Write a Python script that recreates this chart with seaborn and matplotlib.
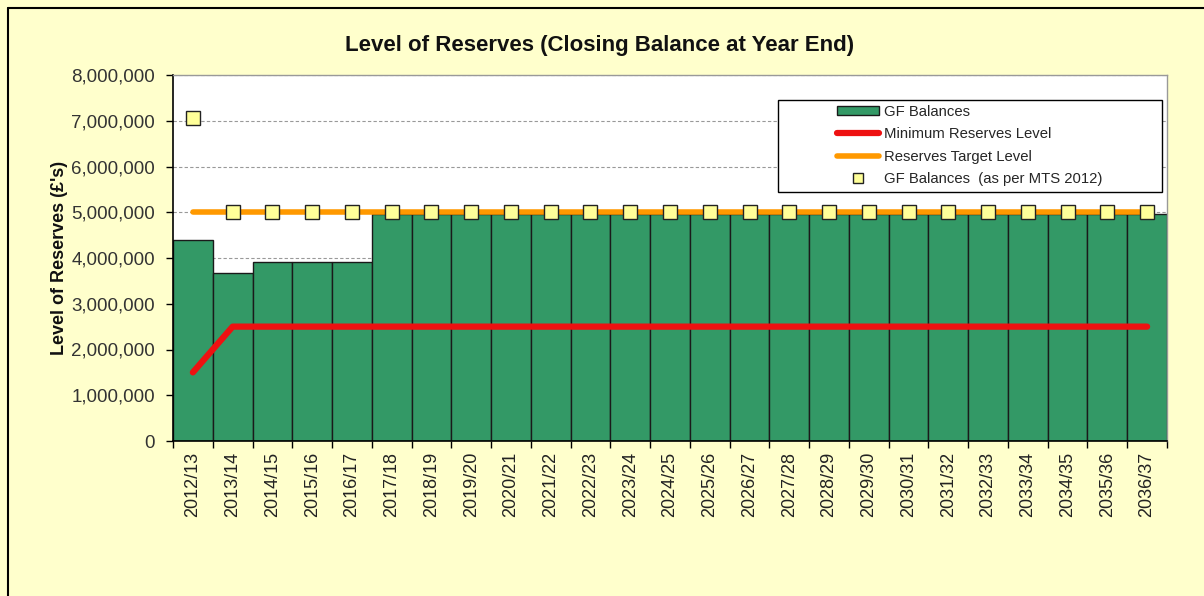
import numpy as np
import pandas as pd
import matplotlib
matplotlib.use("Agg")
import matplotlib.pyplot as plt
import seaborn as sns
from matplotlib.lines import Line2D
from matplotlib.patches import Patch, Rectangle
from matplotlib.ticker import FuncFormatter, MultipleLocator

years = ["2012/13", "2013/14", "2014/15", "2015/16", "2016/17", "2017/18", "2018/19",
         "2019/20", "2020/21", "2021/22", "2022/23", "2023/24", "2024/25", "2025/26",
         "2026/27", "2027/28", "2028/29", "2029/30", "2030/31", "2031/32", "2032/33",
         "2033/34", "2034/35", "2035/36", "2036/37"]
gf_balances = [4400000, 3680000, 3920000, 3920000, 3920000] + [4960000] * 20
min_reserves = [1500000] + [2500000] * 24
target_level = [5000000] * 25
mts_2012 = [7050000] + [5000000] * 24

sns.set_theme(style="white")
plt.rcParams['font.family'] = ['Liberation Sans', 'DejaVu Sans']

W, H = 1204, 596
bg = "#FFFFCC"
fig = plt.figure(figsize=(W/100, H/100), dpi=100, facecolor=bg)
ax = fig.add_axes([173/W, 1-441/H, 994/W, 366/H])
ax.set_facecolor("white")

df = pd.DataFrame({"year": years, "gf": gf_balances, "minr": min_reserves,
                   "target": target_level, "mts": mts_2012})
df["pos"] = np.arange(len(df))

sns.barplot(data=df, x="year", y="gf", color="#339966", saturation=1, width=1.0,
            edgecolor="#1a1a1a", linewidth=1.0, ax=ax, zorder=2)
sns.lineplot(data=df, x="pos", y="target", color="#FF9900", linewidth=4.0, ax=ax,
             zorder=3, solid_capstyle="round")
sns.lineplot(data=df, x="pos", y="minr", color="#EE1111", linewidth=4.5, ax=ax,
             zorder=3, solid_capstyle="round")
ax.plot(df["pos"], df["mts"], linestyle="none", marker="s", markersize=9.5,
        markerfacecolor="#FFFF99", markeredgecolor="#222222", markeredgewidth=1.0, zorder=4)

ax.set_xlim(-0.5, len(years) - 0.5)
ax.set_ylim(0, 8000000)
ax.yaxis.set_major_locator(MultipleLocator(1000000))
ax.yaxis.set_major_formatter(FuncFormatter(lambda v, p: f"{int(v):,}"))
ax.grid(axis="y", color="#999999", linestyle=(0, (3, 2)), linewidth=0.8, zorder=0)
ax.set_axisbelow(True)

ax.set_xticks(np.arange(len(years)))
ax.set_xticklabels(years, rotation=90, fontsize=13, color="#222222")
ax.set_xticks(np.arange(-0.5, len(years)), minor=True)
ax.tick_params(axis="x", which="major", length=0, pad=8)
ax.tick_params(axis="x", which="minor", length=5, width=1, color="black", direction="out", bottom=True)
ax.tick_params(axis="y", length=5, width=1, color="black", direction="out", left=True,
               labelsize=13.5, labelcolor="#333333", pad=8)

ax.set_xlabel("")
ax.set_ylabel("Level of Reserves (£'s)", fontsize=13, fontweight="bold", color="#111111", labelpad=2)

for s in ["left", "bottom"]:
    ax.spines[s].set_color("black")
    ax.spines[s].set_linewidth(1.2)
for s in ["top", "right"]:
    ax.spines[s].set_color("#999999")
    ax.spines[s].set_linewidth(1.0)

fig.text(600/W, 1-46/H, "Level of Reserves (Closing Balance at Year End)",
         ha="center", va="center", fontsize=16, fontweight="bold", color="#111111")

# legend box (opaque white, black frame)
fig.add_artist(Rectangle((778/W, 1-192/H), (1162-778)/W, (192-100)/H,
                         transform=fig.transFigure, facecolor="white",
                         edgecolor="black", linewidth=1.0, zorder=5))

handles = [
    Patch(facecolor="#339966", edgecolor="#1a1a1a", linewidth=1.0),
    Line2D([], [], color="#EE1111", linewidth=4.5, solid_capstyle="round"),
    Line2D([], [], color="#FF9900", linewidth=4.0, solid_capstyle="round"),
    Line2D([], [], linestyle="none", marker="s", markersize=7.5, markerfacecolor="#FFFF99",
           markeredgecolor="#222222"),
]
labels = ["GF Balances", "Minimum Reserves Level", "Reserves Target Level",
          "GF Balances  (as per MTS 2012)"]
leg = fig.legend(handles, labels, loc="upper left",
                 bbox_to_anchor=(837/W, 1-105/H), bbox_transform=fig.transFigure,
                 frameon=False, fontsize=10.7, handlelength=2.85, handleheight=0.55,
                 labelspacing=0.56, borderpad=0, handletextpad=0.3, borderaxespad=0)
leg.set_zorder(6)

# outer chart border (top and left visible)
fig.add_artist(Line2D([8/W, 1.0], [1-8/H, 1-8/H], transform=fig.transFigure,
                      color="black", linewidth=1.5))
fig.add_artist(Line2D([8/W, 8/W], [0.0, 1-8/H], transform=fig.transFigure,
                      color="black", linewidth=1.5))

fig.savefig("out.png", dpi=100, facecolor=bg)
